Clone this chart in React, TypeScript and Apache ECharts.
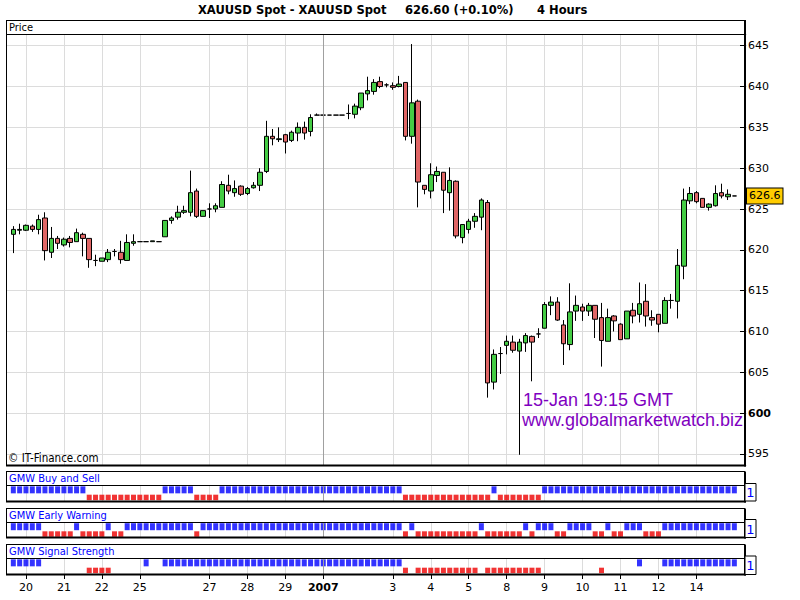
import React, { useEffect, useRef } from 'react';
import * as echarts from 'echarts';

// ---------------- DATA ----------------
// 4-hour bars: [open, close, low, high]
const candles: number[][] = [
  [621.9, 622.5, 619.6, 622.9], [622.4, 622.5, 621.9, 623.2], [622.4, 623.0, 622.3, 623.1], [622.9, 622.5, 622.2, 623.1], [622.5, 623.7, 621.9, 624.3],
  [623.9, 619.9, 618.7, 624.6], [619.7, 621.4, 619.0, 622.8], [621.4, 620.8, 620.1, 621.7], [620.6, 621.3, 620.4, 621.5], [621.4, 620.9, 620.3, 621.7],
  [621.0, 622.1, 621.0, 622.6], [621.9, 621.4, 619.2, 622.1], [621.4, 618.8, 617.8, 621.4], [618.7, 618.7, 618.0, 619.4], [618.6, 619.0, 618.6, 619.0],
  [618.8, 619.7, 618.5, 620.1], [619.8, 619.8, 619.2, 620.1], [619.7, 618.8, 618.3, 621.1], [618.7, 620.9, 618.7, 621.9], [620.8, 621.0, 620.5, 621.9],
  [621.0, 621.0, 621.0, 621.0], [621.0, 621.0, 621.0, 621.0], [621.0, 621.1, 621.0, 621.1], [621.0, 621.0, 621.0, 621.0], [621.6, 623.6, 621.6, 623.6],
  [623.6, 623.9, 623.2, 624.1], [624.0, 624.6, 623.7, 625.4], [624.6, 624.8, 624.4, 625.4], [624.6, 627.0, 624.1, 629.7], [627.2, 624.1, 623.9, 627.5],
  [624.1, 624.8, 624.1, 624.8], [625.0, 625.0, 623.9, 625.7], [625.0, 625.4, 624.6, 625.7], [625.2, 628.0, 625.2, 628.4], [627.9, 627.2, 626.8, 629.2],
  [627.0, 627.5, 626.5, 628.5], [627.8, 626.8, 626.6, 627.9], [626.9, 627.5, 626.7, 627.7], [627.6, 627.9, 627.5, 628.3], [627.9, 629.5, 627.2, 630.0],
  [629.6, 633.9, 629.4, 635.8], [633.9, 633.6, 632.8, 634.8], [633.5, 633.6, 633.2, 635.0], [634.1, 633.2, 631.8, 634.2], [633.4, 634.4, 633.2, 634.6],
  [634.3, 635.0, 633.3, 635.6], [635.0, 634.3, 633.5, 635.7], [634.5, 636.2, 633.9, 636.6], [636.5, 636.5, 636.5, 636.7], [636.5, 636.5, 636.5, 636.5],
  [636.5, 636.5, 636.5, 636.5], [636.5, 636.5, 636.5, 636.5], [636.5, 636.5, 636.5, 636.5], [636.7, 636.7, 636.0, 637.8], [636.6, 637.6, 636.1, 637.9],
  [637.4, 639.2, 637.1, 639.2], [639.1, 639.5, 638.3, 641.2], [639.4, 640.5, 639.0, 640.9], [640.6, 640.0, 639.8, 641.2], [640.2, 640.2, 639.9, 640.4],
  [640.1, 639.9, 639.6, 640.5], [640.0, 640.3, 639.9, 641.3], [640.5, 633.9, 633.4, 640.5], [633.9, 638.0, 633.0, 645.2], [638.2, 628.3, 625.2, 638.4],
  [627.9, 627.4, 626.8, 627.9], [627.2, 629.2, 626.3, 630.6], [629.1, 629.6, 628.3, 630.2], [629.5, 627.3, 624.5, 629.5], [627.0, 628.5, 624.8, 630.1],
  [628.4, 621.7, 621.4, 628.5], [621.5, 623.1, 620.8, 623.1], [622.5, 623.5, 622.0, 623.8], [623.5, 624.1, 622.7, 624.5], [624.0, 626.1, 622.4, 626.3],
  [625.8, 603.7, 601.9, 626.1], [603.8, 607.2, 602.9, 607.8], [607.3, 607.3, 604.8, 608.1], [608.3, 608.8, 607.2, 609.5], [608.7, 607.7, 607.4, 609.5],
  [607.6, 608.7, 594.9, 609.1], [608.6, 609.5, 607.5, 609.8], [609.4, 608.7, 603.9, 609.5], [609.7, 609.7, 609.2, 610.4], [610.4, 613.3, 610.4, 613.6],
  [613.2, 613.6, 612.0, 614.3], [613.6, 611.4, 611.3, 614.2], [610.8, 608.5, 605.9, 611.4], [608.4, 612.4, 607.7, 615.9], [612.5, 613.2, 611.3, 614.4],
  [613.0, 612.5, 611.3, 613.4], [612.5, 613.2, 611.9, 613.5], [613.2, 611.5, 609.2, 613.2], [611.7, 608.9, 605.7, 613.5], [608.8, 611.7, 608.8, 612.8],
  [611.9, 611.3, 610.0, 612.0], [610.9, 609.0, 609.0, 611.0], [609.1, 612.5, 609.1, 612.5], [612.6, 611.9, 611.0, 613.5], [612.1, 613.4, 611.1, 616.0],
  [613.7, 611.9, 610.6, 615.8], [611.7, 611.4, 610.7, 612.6], [612.1, 610.9, 609.9, 612.1], [611.0, 613.8, 611.0, 614.2], [613.8, 613.8, 612.8, 614.6],
  [613.7, 618.1, 611.6, 620.1], [618.0, 626.1, 616.4, 627.5], [626.0, 626.9, 625.6, 627.7], [627.0, 625.9, 625.7, 627.2], [626.3, 625.2, 625.2, 626.3],
  [625.2, 625.6, 624.8, 625.7], [625.4, 626.9, 625.3, 627.9], [627.0, 626.6, 626.3, 628.1], [626.5, 626.8, 626.1, 627.4], [626.6, 626.6, 626.6, 626.6],
];

// indicator signals per bar: B = buy (blue), R = sell (red), . = none
const buySell = 'BBBBBBBBBB BBRRRRRRRR RRRRBBBBBR RRRBBBBBBB BBBBBBBBBB BBBBBBBBBB BBRRRRRRRR RRRRRRBRRR RRRRBBBBBB BBBBBBBBBB BBBBBBBBBB BBBBB'.replace(/ /g, '');
const earlyWarning = 'BBBBBRRRRR BRRRRBRRBB BBBBBBBBBR BBBBBBBBBB BBBBBBBBBB BBBBBBBBBB BBRBRRRRRR RRRRBRRRRR RBRBBBRRBB BBRRBRRBBB RRRBBBBBBB BBBBB'.replace(/ /g, '');
const signalStrength = 'BBBBB..... ..RRRR.... .B..BBBBBB BBBBBBBBBB BBBBBBBBBB BBBBBBBBBB BBR.RRRRRR RRRR.RRRRR RRRR...... ...R.....B ...BBBBBBB BBBBB'.replace(/ /g, '');

// day labels (bar index where the label/gridline sits)
const dayLabels = [
  { bar: 2, text: '20' }, { bar: 8, text: '21' }, { bar: 14, text: '22' }, { bar: 20, text: '25' },
  { bar: 31, text: '27' }, { bar: 37, text: '28' }, { bar: 43, text: '29' }, { bar: 49, text: '2007' },
  { bar: 60, text: '3' }, { bar: 66, text: '4' }, { bar: 72, text: '5' }, { bar: 78, text: '8' },
  { bar: 84, text: '9' }, { bar: 90, text: '10' }, { bar: 96, text: '11' }, { bar: 102, text: '12' },
  { bar: 108, text: '14' },
];
const yearBar = 49;
const boldPrice = 600;
const priceMin = 593.65;
const priceMax = 646.37;
const panelTitles = ['GMW Buy and Sell', 'GMW Early Warning', 'GMW Signal Strength'];

// slots: 1 empty slot before, bars, 2 empty after
const PAD_L = 1;
const categories = Array.from({ length: candles.length + 3 }, (_, i) => `slot${i}`);

// ---------------- STYLE ----------------
const FONT = "'DejaVu Sans', sans-serif";
const FONT_S = "'DejaVu Sans Condensed', 'DejaVu Sans', sans-serif";
const UP = '#44cc44';
const DOWN = '#e06666';
const BLUE = '#0000ff';
const RED = '#ee0000';
const GRIDC = '#dcdcdc';

const labelAt = new Map<number, string>(dayLabels.map((d) => [d.bar + PAD_L, d.text]));
const isLabel = (i: number) => labelAt.has(i);

function buildOption() {
  const L = 7;
  const W = 740;
  const grids = [
    { left: L, top: 34.5, width: W, height: 430.5 },
    { left: L, top: 485.5, width: W, height: 15.5 },
    { left: L, top: 522.5, width: W, height: 15 },
    { left: L, top: 558.5, width: W, height: 15.5 },
  ];
  const mkX = (gi: number, showLabels: boolean) => ({
    type: 'category',
    gridIndex: gi,
    data: categories,
    boundaryGap: false,
    axisLine: { show: false },
    axisTick: { show: showLabels, interval: (i: number) => isLabel(i), length: 5, inside: false, lineStyle: { color: '#000' } },
    axisLabel: {
      show: showLabels,
      interval: (i: number) => isLabel(i),
      formatter: (_v: string, i: number) => {
        const t = labelAt.get(i) || '';
        return i === yearBar + PAD_L ? `{b|${t}}` : t;
      },
      color: '#000', fontSize: 11, fontFamily: FONT, margin: 8,
      rich: { b: { fontWeight: 'bold', fontSize: 11, fontFamily: FONT, color: '#000' } },
    },
    splitLine: { show: true, interval: (i: number) => isLabel(i), lineStyle: { color: GRIDC, width: 1 } },
  });
  const xAxes = [mkX(0, false), mkX(1, false), mkX(2, false), mkX(3, true)];
  const yAxes: any[] = [
    {
      type: 'value', gridIndex: 0, position: 'right', offset: -2, min: priceMin, max: priceMax, splitNumber: 10,
      axisLine: { show: false },
      axisTick: { show: true, inside: true, length: 5, lineStyle: { color: '#000' } },
      axisLabel: {
        show: true, showMinLabel: false, showMaxLabel: false, margin: 3, color: '#000', fontSize: 11, fontFamily: FONT,
        formatter: (v: number) => {
          const r = Math.round(v);
          if (Math.abs(v - r) > 0.01) return '';
          return r === boldPrice ? `{b|${r}}` : String(r);
        },
        rich: { b: { fontWeight: 'bold', fontSize: 11, fontFamily: FONT, color: '#000' } },
      },
      splitLine: { show: true, lineStyle: { color: GRIDC, width: 1 } },
    },
  ];
  for (let g = 1; g <= 3; g++) {
    yAxes.push({ type: 'value', gridIndex: g, min: 0, max: 1, show: false, splitLine: { show: false } });
  }

  const lastClose = candles[candles.length - 1][1];
  const yearLine = {
    xAxis: categories[yearBar + PAD_L],
    lineStyle: { color: '#a0a0a0', width: 1, type: 'solid' },
    label: { show: false },
  };

  const series: any[] = [
    {
      type: 'candlestick',
      xAxisIndex: 0, yAxisIndex: 0,
      data: candles.map((c, i) => [i + PAD_L, c[0], c[1], c[2], c[3]]),
      encode: { x: 0, y: [1, 2, 3, 4] },
      barWidth: 5,
      itemStyle: { color: UP, color0: DOWN, borderColor: '#000', borderColor0: '#000', borderColorDoji: '#000', borderWidth: 1 },
      markLine: {
        silent: true, symbol: ['none', 'none'], animation: false,
        data: [
          yearLine,
          {
            yAxis: lastClose,
            lineStyle: { color: 'rgba(0,0,0,0)', width: 1, type: 'solid' },
            label: {
              show: true, position: 'end', distance: 0, formatter: lastClose.toFixed(1),
              backgroundColor: '#ffcc00', borderColor: '#000', borderWidth: 1, padding: [2, 2, 2, 2],
              color: '#000', fontSize: 11, fontFamily: FONT,
            },
          },
        ],
      },
    },
  ];
  const BLUE_Y = 0.72;
  const RED_Y = 0.23;
  [buySell, earlyWarning, signalStrength].forEach((sig, p) => {
    const gi = p + 1;
    const blues: number[][] = [];
    const reds: number[][] = [];
    sig.split('').forEach((ch, i) => {
      if (ch === 'B') blues.push([i + PAD_L, BLUE_Y]);
      else if (ch === 'R') reds.push([i + PAD_L, RED_Y]);
    });
    series.push({
      type: 'scatter', xAxisIndex: gi, yAxisIndex: gi, data: blues, symbol: 'rect', symbolSize: [5, 7],
      itemStyle: { color: BLUE }, silent: true,
      markLine: { silent: true, symbol: ['none', 'none'], animation: false, data: [yearLine] },
    });
    series.push({
      type: 'scatter', xAxisIndex: gi, yAxisIndex: gi, data: reds, symbol: 'rect', symbolSize: [5, 5.5],
      itemStyle: { color: RED }, silent: true,
    });
  });

  // -------- frames and texts --------
  const line = (x1: number, y1: number, x2: number, y2: number, w = 1) => ({
    type: 'line', silent: true, z: 100, shape: { x1, y1, x2, y2 }, style: { stroke: '#000', lineWidth: w },
  });
  const text = (x: number, y: number, t: string, o: any = {}) => ({
    type: 'text', silent: true, z: 101, x, y,
    style: { text: t, fill: o.fill || '#000', fontSize: o.size || 11, fontFamily: o.family || FONT_S, fontWeight: o.weight || 'normal', align: o.align || 'left', verticalAlign: 'middle' },
  });
  const g: any[] = [];
  // main panel
  g.push(line(6, 20.5, 745, 20.5));
  g.push(line(6, 34.5, 745, 34.5));
  g.push(line(6.5, 20.5, 6.5, 466));
  g.push(line(6, 465.5, 746, 465.5, 2));
  g.push(line(745, 20, 745, 466.5, 2));
  g.push(text(9, 27.5, 'Price', { size: 11 }));
  g.push(text(8, 458, '\u00A9 IT-Finance.com', { size: 11.5 }));
  // panels
  const panels = [
    { top: 471.5, sep: 485.5, bottom: 501.5, boxTop: 483.5, boxBottom: 501, titleY: 478 },
    { top: 508.5, sep: 522.5, bottom: 537.5, boxTop: 519.5, boxBottom: 537.5, titleY: 515.5 },
    { top: 544.5, sep: 558.5, bottom: 574.5, boxTop: 556, boxBottom: 574.5, titleY: 551 },
  ];
  panels.forEach((p, k) => {
    g.push(line(6, p.top, 745, p.top));
    g.push(line(6, p.sep, 745, p.sep));
    g.push(line(6.5, p.top, 6.5, p.bottom));
    g.push(line(6, p.bottom, 746, p.bottom, 2));
    g.push(line(745, p.top, 745, p.bottom + 1, 2));
    g.push({ type: 'rect', silent: true, z: 100, shape: { x: 745, y: p.boxTop, width: 11, height: p.boxBottom - p.boxTop }, style: { fill: '#fff', stroke: '#000', lineWidth: 1 } });
    g.push(text(750.5, (p.boxTop + p.boxBottom) / 2 + 0.5, '1', { fill: BLUE, size: 13, family: FONT, align: 'center' }));
    g.push(text(9, p.titleY, panelTitles[k], { fill: BLUE, size: 11 }));
  });
  // title
  g.push(text(198, 9.5, 'XAUUSD Spot - XAUUSD Spot', { size: 11.5, weight: 'bold', family: FONT }));
  g.push(text(405, 9.5, '626.60 (+0.10%)', { size: 11.5, weight: 'bold', family: FONT }));
  g.push(text(537, 9.5, '4 Hours', { size: 11.5, weight: 'bold', family: FONT }));
  // watermark
  g.push(text(523, 400, '15-Jan 19:15 GMT', { fill: '#8000c0', size: 18, family: "'Liberation Sans', Arial, sans-serif" }));
  g.push(text(522, 420, 'www.globalmarketwatch.biz', { fill: '#8000c0', size: 18, family: "'Liberation Sans', Arial, sans-serif" }));

  return {
    animation: false,
    backgroundColor: '#ffffff',
    grid: grids,
    xAxis: xAxes,
    yAxis: yAxes,
    series,
    graphic: g,
  };
}

export default function App() {
  const ref = useRef<HTMLDivElement>(null);
  useEffect(() => {
    const chart = echarts.init(ref.current!, null, { renderer: 'svg' });
    chart.setOption(buildOption() as any);
    return () => chart.dispose();
  }, []);
  return <div ref={ref} style={{ position: 'absolute', left: 0, top: 0, width: 800, height: 600 }} />;
}
